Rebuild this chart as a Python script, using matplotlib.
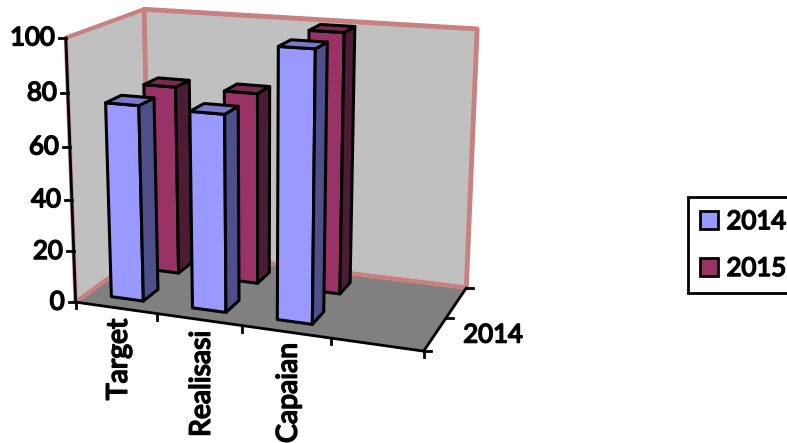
import numpy as np
import matplotlib
matplotlib.use('Agg')
import matplotlib.pyplot as plt
import matplotlib.patheffects as pe
from matplotlib.patches import Polygon, Patch

categories = ['Target', 'Realisasi', 'Capaian', '']
values_2014 = [75, 74.5, 100]
values_2015 = [75, 75, 100]
y_ticks = [0, 20, 40, 60, 80, 100]

# where the box corners sit in the picture: (x, depth, value) -> pixel
corner_3d = [(0, 0, 0), (0, 0, 100), (0, 1, 0), (0, 1, 100), (4, 1, 0), (4, 1, 100), (4, 0, 0)]
corner_px = [(77, 303), (65, 37), (148, 248), (145, 10), (467, 288), (477, 29), (423, 351)]

rows = []
for (x, d, v), (u, w) in zip(corner_3d, corner_px):
    p = [x, d, v / 100, 1]
    rows.append(p + [0, 0, 0, 0] + [-u * c for c in p])
    rows.append([0, 0, 0, 0] + p + [-w * c for c in p])
cam = np.linalg.svd(np.array(rows))[2][-1].reshape(3, 4)


def proj(x, d, v):
    q = cam @ np.array([x, d, v / 100, 1])
    return q[0] / q[2], q[1] / q[2]


fig = plt.figure(figsize=(7.87, 4.43), dpi=100)
ax = fig.add_axes([0, 0, 1, 1])
ax.set_xlim(0, 787)
ax.set_ylim(443, 0)
ax.axis('off')

# only a regular cut seems to load, so thicken it with a stroke
bold = [pe.withStroke(linewidth=1.2, foreground='black')]
font = {'family': 'Lato', 'color': 'black', 'path_effects': bold}
size = 18.5
pink = '#c88080'


def face(pts, color, edge='black', lw=2.2, z=2):
    ax.add_patch(Polygon([proj(*p) for p in pts], closed=True, fc=color, ec=edge, lw=lw, joinstyle='round', zorder=z))


# walls and floor
face([(0, 0, 0), (0, 1, 0), (0, 1, 100), (0, 0, 100)], '#c0c0c0', edge=pink, lw=3)
face([(0, 1, 0), (4, 1, 0), (4, 1, 100), (0, 1, 100)], '#c0c0c0', edge=pink, lw=3.5)
face([(0, 0, 0), (0, 1, 0), (4, 1, 0), (4, 0, 0)], '#808080', edge='none', lw=0)
ax.plot(*zip(proj(0, 0, 0), proj(0, 1, 0)), color=pink, lw=3, zorder=2)
ax.plot(*zip(proj(0, 1, 0), proj(4, 1, 0)), color=pink, lw=3, zorder=2)


def bar(i, d0, d1, val, c_front, c_side, c_top):
    x0, x1 = i + 0.3, i + 0.7
    face([(x0, d0, 0), (x1, d0, 0), (x1, d0, val), (x0, d0, val)], c_front, z=3)
    face([(x1, d0, 0), (x1, d1, 0), (x1, d1, val), (x1, d0, val)], c_side, z=3)
    face([(x0, d0, val), (x1, d0, val), (x1, d1, val), (x0, d1, val)], c_top, z=3)


for i, val in enumerate(values_2015):
    bar(i, 0.65, 0.85, val, '#993366', '#4e1b34', '#7a2952')
for i, val in enumerate(values_2014):
    bar(i, 0.15, 0.35, val, '#9999ff', '#4f4f8c', '#7a7acc')

# axes lines
for a, b in [((0, 0, 0), (0, 0, 100)), ((0, 0, 0), (4, 0, 0)), ((4, 0, 0), (4, 1, 0))]:
    ax.plot(*zip(proj(*a), proj(*b)), color='black', lw=2, zorder=4, solid_capstyle='round')

for t in y_ticks:
    u, w = proj(0, 0, t)
    ax.plot([u - 7, u], [w, w], color='black', lw=2, zorder=4)
    ax.text(u - 11, w, str(t), ha='right', va='center', fontsize=size, zorder=5, **font)

for i in range(len(categories) + 1):
    u, w = proj(i, 0, 0)
    ax.plot([u, u], [w, w + 6], color='black', lw=2, zorder=4)
for i, name in enumerate(categories):
    u, w = proj(i + 0.5, 0, 0)
    ax.text(u + 3, w + 11, name, rotation=90, ha='center', va='top', fontsize=20.5, zorder=5, **font)

for d in [0, 0.5, 1]:
    u, w = proj(4, d, 0)
    ax.plot([u, u + 7], [w, w], color='black', lw=2, zorder=4)
u, w = proj(4, 0.25, 0)
ax.text(u + 28, w + 1, '2014', ha='left', va='center', fontsize=size, zorder=5, **font)

handles = [Patch(fc='#9999ff', ec='black', lw=2), Patch(fc='#993366', ec='black', lw=2)]
leg = ax.legend(handles, ['2014', '2015'], loc='upper left', bbox_to_anchor=(688 / 787, 1 - 197 / 443),
                prop={'family': 'Lato', 'size': size}, fancybox=False, framealpha=1,
                edgecolor='black', handlelength=0.7, handleheight=0.7, handletextpad=0.33, labelspacing=0.85,
                borderpad=0.47, borderaxespad=0)
leg.get_frame().set_linewidth(2)
for txt in leg.get_texts():
    txt.set_path_effects(bold)

fig.savefig('out.png', dpi=100)
